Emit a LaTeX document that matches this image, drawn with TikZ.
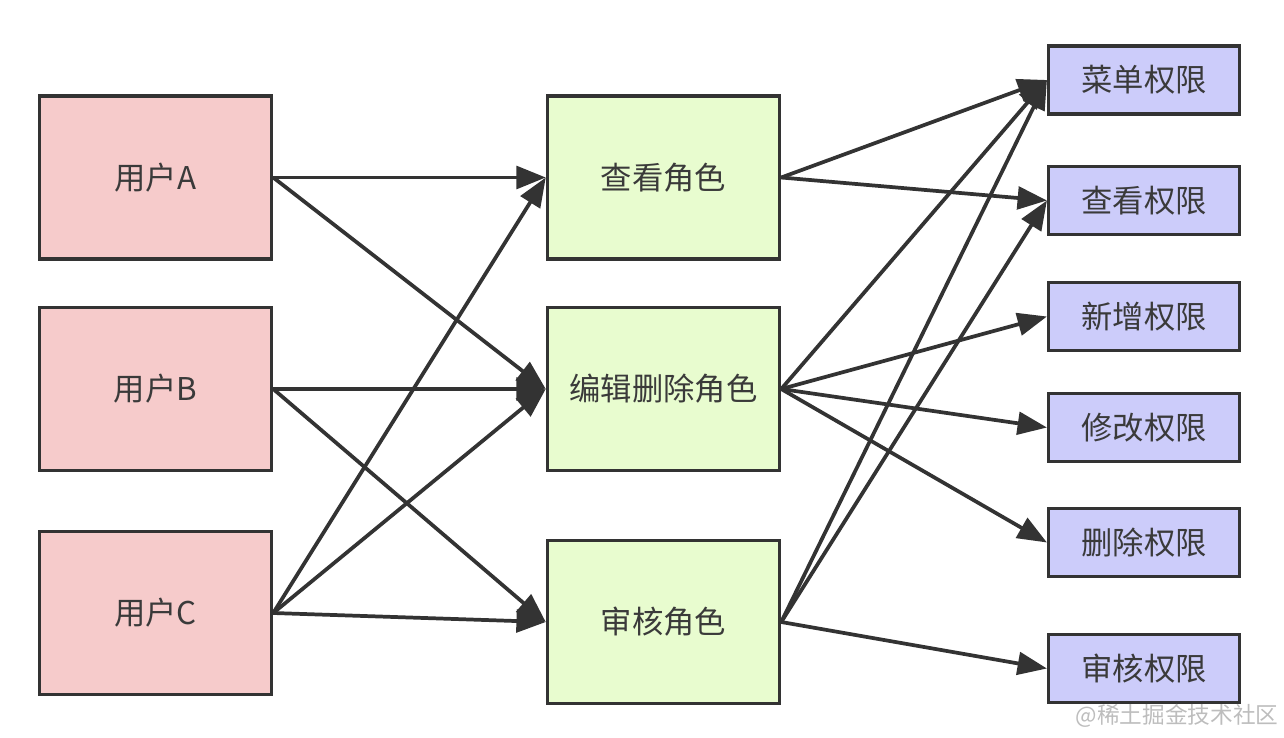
\documentclass[tikz,border=0pt]{standalone}
\usepackage{fontspec}
\newfontfamily\cjk{Noto Sans CJK SC}
\usetikzlibrary{arrows.meta}
\definecolor{userfill}{HTML}{F6CBCB}
\definecolor{rolefill}{HTML}{E8FCCF}
\definecolor{permfill}{HTML}{CCCCFA}
\definecolor{edgecol}{HTML}{333333}
\definecolor{txtcol}{HTML}{3A3A3A}
\definecolor{wmcol}{HTML}{BDBDBD}
\begin{document}
\begin{tikzpicture}[x=0.75pt,y=-0.75pt,
  box/.style={draw=edgecol, line width=2.6pt, inner sep=0pt, text=txtcol, font=\cjk\fontsize{23.5pt}{27pt}\selectfont},
  userbox/.style={box, fill=userfill, minimum width=174pt, minimum height=122pt},
  rolebox/.style={box, fill=rolefill, minimum width=174pt, minimum height=122pt},
  permbox/.style={box, fill=permfill, minimum width=143pt, minimum height=51pt},
  conn/.style={draw=edgecol, line width=2.8pt, -{Triangle[length=22pt,width=17pt]}}
]
\useasboundingbox (0,0) rectangle (1284,738);
\node[userbox] (ua) at (155.5,177.5) {用户A};
\node[userbox] (ub) at (155.5,389) {用户B};
\node[userbox] (uc) at (155.5,613) {用户C};
\node[rolebox] (rv) at (663.5,177.5) {查看角色};
\node[rolebox] (re) at (663.5,389) {编辑删除角色};
\node[rolebox] (ra) at (663.5,622) {审核角色};
\node[permbox] (p1) at (1144,80) {菜单权限};
\node[permbox] (p2) at (1144,200.5) {查看权限};
\node[permbox] (p3) at (1144,316.5) {新增权限};
\node[permbox] (p4) at (1144,427.5) {修改权限};
\node[permbox] (p5) at (1144,542.5) {删除权限};
\node[permbox] (p6) at (1144,668.5) {审核权限};
\node[text=wmcol, font=\cjk\fontsize{17pt}{20pt}\selectfont, inner sep=0pt] (wm) at (1177,716) {@稀土掘金技术社区};

\draw[conn] (ua.east) -- (rv.west);
\draw[conn] (ua.east) -- (re.west);
\draw[conn] (ub.east) -- (re.west);
\draw[conn] (ub.east) -- (ra.west);
\draw[conn] (uc.east) -- (rv.west);
\draw[conn] (uc.east) -- (re.west);
\draw[conn] (uc.east) -- (ra.west);

\draw[conn] (rv.east) -- (p1.west);
\draw[conn] (rv.east) -- (p2.west);
\draw[conn] (re.east) -- (p1.west);
\draw[conn] (re.east) -- (p3.west);
\draw[conn] (re.east) -- (p4.west);
\draw[conn] (re.east) -- (p5.west);
\draw[conn] (ra.east) -- (p1.west);
\draw[conn] (ra.east) -- (p2.west);
\draw[conn] (ra.east) -- (p6.west);
\end{tikzpicture}
\end{document}
